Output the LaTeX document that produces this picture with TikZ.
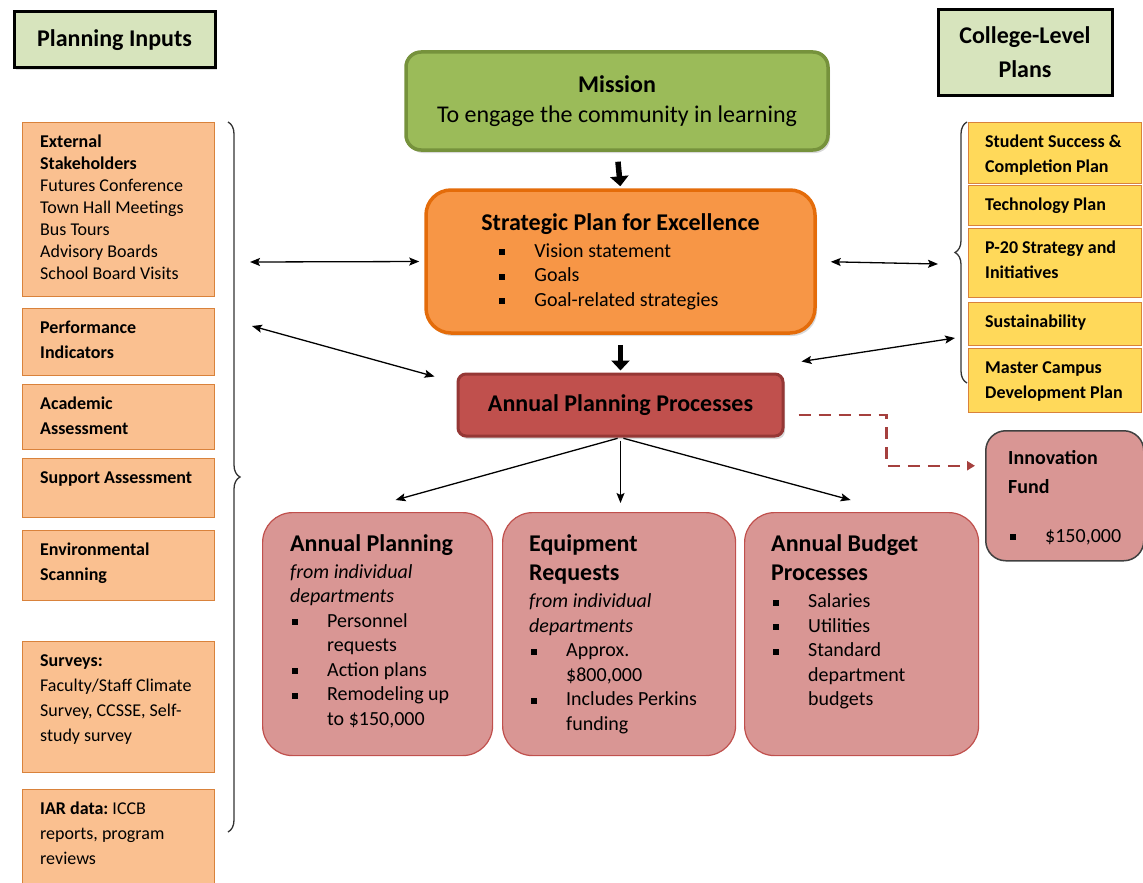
\documentclass[tikz,border=0pt]{standalone}
\usepackage{fontspec}
\setmainfont{Carlito}
\usetikzlibrary{arrows.meta, calc, decorations.pathreplacing, shadows}

\definecolor{hdrgreen}{HTML}{D7E4BD}
\definecolor{misgreen}{HTML}{9BBB59}
\definecolor{misborder}{HTML}{76923C}
\definecolor{sporange}{HTML}{F79646}
\definecolor{spborder}{HTML}{E46C0A}
\definecolor{appred}{HTML}{C0504D}
\definecolor{appborder}{HTML}{953735}
\definecolor{inorange}{HTML}{FAC090}
\definecolor{inborder}{HTML}{D9823B}
\definecolor{plyellow}{HTML}{FFD95A}
\definecolor{pink}{HTML}{D99694}
\definecolor{pinkborder}{HTML}{C0504D}
\definecolor{dashred}{HTML}{A5403E}

\newcommand{\sqbul}{\makebox[37pt][l]{\hspace{2pt}\rule[2pt]{6pt}{6pt}}}
\newcommand{\bulind}{\hspace*{37pt}}
\newcommand{\ttlfont}{\fontsize{24}{30}\selectfont\bfseries}

\begin{document}
\begin{tikzpicture}
    [
        x=1pt, y=-1pt,
        header/.style = {
                draw=black,
                line width=3pt,
                fill=hdrgreen,
                align=center,
                font=\fontsize{24}{34}\selectfont\bfseries,
                drop shadow={shadow xshift=2pt, shadow yshift=-2pt, opacity=0.25}
            },
        inbox/.style = {
                draw=inborder,
                line width=1.2pt,
                fill=inorange,
                anchor=north west,
                minimum width=192,
                inner sep=0pt
            },
        intext/.style = {
                anchor=north west,
                align=left,
                inner xsep=18pt,
                inner ysep=13pt,
                font=\fontsize{18}{25}\selectfont
            },
        plbox/.style = {
                draw=inborder,
                line width=1.2pt,
                fill=plyellow,
                anchor=north west,
                minimum width=173,
                inner sep=0pt
            },
        pltext/.style = {
                anchor=north west,
                align=left,
                inner xsep=17pt,
                inner ysep=13pt,
                font=\fontsize{18}{25}\selectfont\bfseries
            },
        centrebox/.style = {
                line width=3.5pt,
                align=center,
                drop shadow={shadow xshift=2pt, shadow yshift=-3pt, opacity=0.3}
            },
        pbox/.style = {
                draw=pinkborder,
                line width=1.2pt,
                fill=pink,
                rounded corners=30pt,
                anchor=north west,
                minimum height=243,
                inner sep=0pt
            },
        ptext/.style = {
                anchor=north west,
                align=left,
                inner xsep=28pt,
                inner ysep=22pt,
                font=\fontsize{20}{24.5}\selectfont
            },
        arr/.style = {-{Stealth[length=10pt, width=8pt, inset=2pt]}, line width=1.3pt},
        dblarr/.style = {{Stealth[length=10pt, width=8pt, inset=2pt]}-{Stealth[length=10pt, width=8pt, inset=2pt]}, line width=1.3pt},
        thickarr/.style = {-{Triangle[length=10pt 0, width=18pt 0]}, line width=5.5pt},
        dasharr/.style = {-{Triangle[length=8pt, width=9pt]}, line width=2.5pt, dashed, dash pattern=on 12pt off 8pt, draw=dashred},
        brace/.style = {decorate, decoration={brace, amplitude=12pt}, line width=1.3pt, draw=black!80}
    ]

    \useasboundingbox (0,0) rectangle (1143,883);

    \node[header, minimum width=201, minimum height=56] (inputs) at (114.5,40) {Planning Inputs};
    \node[header, minimum width=174, minimum height=85] (plans) at (1025,52.5) {College-Level\\Plans};

    \node[inbox, minimum height=174] (ext) at (22,122) {};
    \node[intext, font=\fontsize{18}{22}\selectfont] (ext-t) at (ext.north west) {\textbf{External}\\\textbf{Stakeholders}\\Futures Conference\\Town Hall Meetings\\Bus Tours\\Advisory Boards\\School Board Visits};
    \node[inbox, minimum height=67] (perf) at (22,308) {};
    \node[intext] (perf-t) at (perf.north west) {\textbf{Performance}\\\textbf{Indicators}};
    \node[inbox, minimum height=65] (acad) at (22,384) {};
    \node[intext] (acad-t) at (acad.north west) {\textbf{Academic}\\\textbf{Assessment}};
    \node[inbox, minimum height=59] (supp) at (22,458) {};
    \node[intext] (supp-t) at (supp.north west) {\textbf{Support Assessment}};
    \node[inbox, minimum height=70] (env) at (22,530) {};
    \node[intext] (env-t) at (env.north west) {\textbf{Environmental}\\\textbf{Scanning}};
    \node[inbox, minimum height=131] (surv) at (22,641) {};
    \node[intext] (surv-t) at (surv.north west) {\textbf{Surveys:}\\Faculty/Staff Climate\\Survey, CCSSE, Self-\\study survey};
    \node[inbox, minimum height=120] (iar) at (22,789) {};
    \node[intext] (iar-t) at (iar.north west) {\textbf{IAR data:}~ICCB\\reports, program\\reviews};

    \node[plbox, minimum height=61] (ssc) at (968,122) {};
    \node[pltext] (ssc-t) at (ssc.north west) {Student Success \&\\Completion Plan};
    \node[plbox, minimum height=40] (tech) at (968,185) {};
    \node[pltext] (tech-t) at (tech.north west) {Technology Plan};
    \node[plbox, minimum height=69] (p20) at (968,228) {};
    \node[pltext] (p20-t) at (p20.north west) {P-20 Strategy and\\Initiatives};
    \node[plbox, minimum height=43] (sus) at (968,302) {};
    \node[pltext] (sus-t) at (sus.north west) {Sustainability};
    \node[plbox, minimum height=64] (mcd) at (968,348) {};
    \node[pltext] (mcd-t) at (mcd.north west) {Master Campus\\Development Plan};

    \node[centrebox, draw=misborder, fill=misgreen, rounded corners=15pt, minimum width=422, minimum height=98,
        font=\fontsize{24}{30}\selectfont] (mission) at (617,101) {\textbf{Mission}\\To engage the community in learning};
    \node[centrebox, draw=spborder, fill=sporange, rounded corners=25pt, minimum width=389, minimum height=143,
        align=left, font=\fontsize{20}{24.5}\selectfont] (sp) at (620.5,261.5)
        {{\ttlfont Strategic Plan for Excellence}\\[2.5pt]
         \hspace*{16pt}\sqbul Vision statement\\
         \hspace*{16pt}\sqbul Goals\\
         \hspace*{16pt}\sqbul Goal-related strategies};
    \node[centrebox, line width=3pt, draw=appborder, fill=appred, rounded corners=8pt, minimum width=325, minimum height=62,
        font=\ttlfont] (app) at (620.5,405) {Annual Planning Processes};

    \node[pbox, minimum width=230] (apl) at (262,512) {};
    \node[ptext] (apl-t) at (apl.north west)
        {{\ttlfont Annual Planning}\\[2.5pt]
         \textit{from individual}\\
         \textit{departments}\\
         \sqbul Personnel\\
         \bulind requests\\
         \sqbul Action plans\\
         \sqbul Remodeling up\\
         \bulind to \$150,000};
    \node[pbox, minimum width=233] (eqr) at (502,512) {};
    \node[ptext, inner xsep=27pt] (eqr-t) at (eqr.north west)
        {{\ttlfont Equipment}\\[5pt]
         {\ttlfont Requests}\\[2.5pt]
         \textit{from individual}\\
         \textit{departments}\\
         \sqbul Approx.\\
         \bulind \$800,000\\
         \sqbul Includes Perkins\\
         \bulind funding};
    \node[pbox, minimum width=234] (abp) at (744,512) {};
    \node[ptext, inner xsep=27pt] (abp-t) at (abp.north west)
        {{\ttlfont Annual Budget}\\[5pt]
         {\ttlfont Processes}\\[2.5pt]
         \sqbul Salaries\\
         \sqbul Utilities\\
         \sqbul Standard\\
         \bulind department\\
         \bulind budgets};

    \node[pbox, draw=black!75, line width=1.5pt, rounded corners=20pt, minimum width=158, minimum height=130] (inno) at (985,430) {};
    \node[ptext, inner xsep=23pt, inner ysep=20pt, font=\fontsize{20}{29}\selectfont] (inno-t) at (inno.north west)
        {\textbf{Innovation}\\\textbf{Fund}\\[20pt]\sqbul\$150,000};

    \draw[brace] (228,122) -- (228,832);
    \draw[brace] (967,383) -- (967,122);

    \coordinate (lb1) at (250,262);
    \coordinate (lb2) at (252,326);
    \coordinate (rb1) at (938,264);
    \coordinate (rb2) at (955,338);

    \draw[thickarr, shorten <=10pt, shorten >=2pt] (mission.south) -- (sp.north);
    \draw[thickarr, shorten <=10pt, shorten >=2pt] (sp.south) -- (app.north);

    \draw[dblarr, shorten >=5pt] (lb1) -- (sp.west);
    \draw[dblarr] (lb2) -- ($(app.north west)+(-22,4)$);
    \draw[dblarr, shorten <=14pt] (sp.east) -- (rb1);
    \draw[dblarr] (rb2) -- ($(app.north east)+(17,-11)$);

    \draw[arr, shorten <=3pt] (app.south) -- ($(apl.north)+(18,-12)$);
    \draw[arr, shorten <=3pt, shorten >=9pt] (app.south) -- (app.south |- eqr.north);
    \draw[arr, shorten <=3pt] (app.south) -- ($(abp.north)+(-11,-12)$);

    \draw[dasharr] ($(app.east)+(14,10)$) -- ++(88,0) |- ($(inno.west)+(-10,-30)$);

\end{tikzpicture}
\end{document}
